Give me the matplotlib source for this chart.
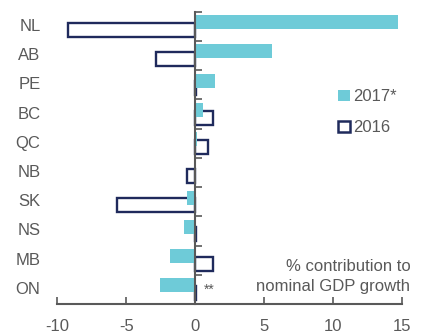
import matplotlib
matplotlib.use("Agg")
import matplotlib.pyplot as plt
import matplotlib.transforms as mtransforms
from matplotlib.patches import Patch
import numpy as np

plt.rcParams['font.family'] = ['Liberation Sans', 'DejaVu Sans']

provinces = ["NL", "AB", "PE", "BC", "QC", "NB", "SK", "NS", "MB", "ON"]
contrib_2017 = [14.7, 5.6, 1.45, 0.55, 0.15, 0.0, -0.6, -0.8, -1.85, -2.55]
contrib_2016 = [-9.2, -2.85, 0.05, 1.3, 0.95, -0.6, -5.7, 0.1, 1.3, 0.07]
xticks = [-10, -5, 0, 5, 10, 15]

CYAN = "#6ECBD8"
NAVY = "#1F2A5C"
GREY = "#595959"

fig = plt.figure(figsize=(4.3, 3.35), dpi=100)
ax = fig.add_axes([0.1333, 0.0925, 0.8009, 0.8725])

y = np.arange(len(provinces))
ax.barh(y + 0.12, contrib_2016, height=0.48, facecolor="white",
        edgecolor=NAVY, linewidth=1.7, zorder=2, label="2016")
ax.barh(y - 0.14, contrib_2017, height=0.48, color=CYAN,
        linewidth=0, zorder=3, label="2017*")

ax.set_xlim(-10, 15)
ax.set_ylim(len(provinces) - 0.5, -0.5)

for s in ["top", "right"]:
    ax.spines[s].set_visible(False)
ax.spines["left"].set_position(("data", 0))
ax.spines["left"].set_zorder(4)
for s in ["left", "bottom"]:
    ax.spines[s].set_color(GREY)
    ax.spines[s].set_linewidth(1.5)

ax.set_yticks(np.arange(len(provinces) + 1) - 0.5)
ax.set_yticklabels([])
ax.tick_params(axis="y", direction="in", length=5, width=1.2, color=GREY)
ax.set_xticks(xticks)
ax.set_xticklabels([str(t) for t in xticks])
ax.tick_params(axis="x", direction="in", length=5, width=1.2, color=GREY,
               labelsize=12, labelcolor=GREY, pad=11)

trans = mtransforms.blended_transform_factory(ax.transAxes, ax.transData)
for yi, name in zip(y, provinces):
    ax.text(-0.049, yi, name, transform=trans, ha="right", va="center",
            fontsize=12, color=GREY)

ax.text(0.6, 9.0, "**", transform=ax.transData, ha="left", va="center",
        fontsize=10, color=GREY)

ax.text(1.025, 0.094, "% contribution to\nnominal GDP growth",
        transform=ax.transAxes, ha="right", va="center", fontsize=12,
        color=GREY, linespacing=1.45)

handles = [Patch(facecolor=CYAN, edgecolor="none"),
           Patch(facecolor="white", edgecolor=NAVY, linewidth=1.8)]
leg = ax.legend(handles, ["2017*", "2016"], loc="upper left",
                bbox_to_anchor=(0.815, 0.735), frameon=False, fontsize=12,
                handlelength=0.7, handleheight=0.7, handletextpad=0.2,
                labelspacing=0.96, borderpad=0, borderaxespad=0)
for t in leg.get_texts():
    t.set_color(GREY)

fig.savefig("out.png", dpi=100)
